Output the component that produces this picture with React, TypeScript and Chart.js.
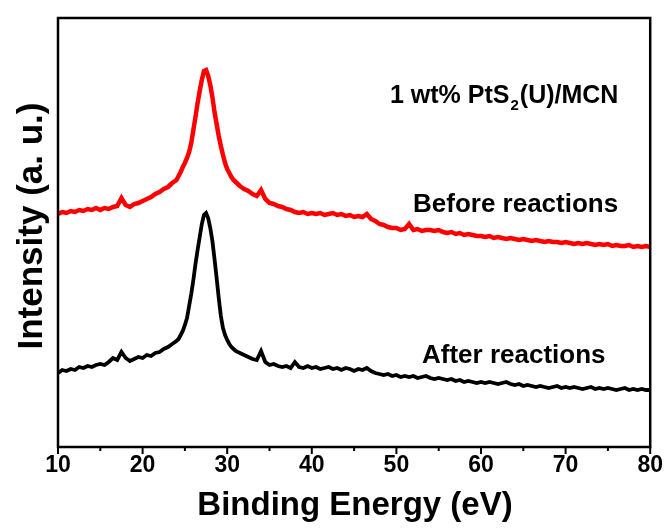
import React, { useEffect, useRef } from "react";
import { Chart, registerables } from "chart.js";

Chart.register(...registerables);

// Binding energy grid (eV)
const energies = [
  10, 10.5, 11, 11.5, 12, 12.5, 13, 13.5, 14, 14.5,
  15, 15.5, 16, 16.5, 17, 17.5, 18, 18.5, 19, 19.5,
  20, 20.5, 21, 21.5, 22, 22.5, 23, 23.5, 24,
  24.25, 24.5, 24.75, 25, 25.25, 25.5, 25.75, 26, 26.25, 26.5,
  26.75, 27, 27.25, 27.5, 27.75, 28, 28.25, 28.5, 28.75, 29,
  29.25, 29.5, 29.75, 30, 30.25, 30.5, 30.75, 31,
  31.5, 32, 32.5, 33, 33.5, 34, 34.5, 35, 35.5, 36,
  36.5, 37, 37.5, 38, 38.5, 39, 39.5, 40, 40.5, 41,
  41.5, 42, 42.5, 43, 43.5, 44, 44.5, 45, 45.5, 46,
  46.5, 47, 47.5, 48, 48.5, 49, 49.5, 50, 50.5, 51,
  51.5, 52, 52.5, 53, 53.5, 54, 54.5, 55, 55.5, 56,
  56.5, 57, 57.5, 58, 58.5, 59, 59.5, 60, 60.5, 61,
  61.5, 62, 62.5, 63, 63.5, 64, 64.5, 65, 65.5, 66,
  66.5, 67, 67.5, 68, 68.5, 69, 69.5, 70, 70.5, 71,
  71.5, 72, 72.5, 73, 73.5, 74, 74.5, 75, 75.5, 76,
  76.5, 77, 77.5, 78, 78.5, 79, 79.5, 80,
];

// Intensity (a. u.) — before reactions (red)
const beforeReactions = [
  233, 235, 234, 236, 235, 237, 236, 238, 237, 239,
  237, 239, 238, 240, 241, 249, 242, 240, 243, 244,
  246, 248, 250, 253, 255, 258, 260, 264, 267,
  271, 275, 280, 284, 289, 295, 304, 317, 330, 344,
  356, 367, 376, 377, 371, 362, 350, 335, 323, 311,
  301, 292, 284, 278, 274, 270, 267, 265,
  261, 258, 256, 253, 251, 257, 248, 244, 243, 241,
  240, 238, 237, 235, 234, 235, 233, 234, 233, 234,
  232, 233, 234, 232, 233, 231, 232, 230, 231, 230,
  233, 228, 226, 223, 222, 220, 219, 219, 217, 218,
  223, 217, 218, 216, 217, 217, 216, 217, 215, 214,
  215, 213, 214, 212, 213, 212, 211, 211, 210, 211,
  209, 210, 209, 208, 209, 208, 207, 208, 207, 206,
  207, 206, 205, 206, 205, 205, 204, 205, 204, 203,
  204, 203, 204, 203, 202, 203, 202, 203, 201, 202,
  201, 201, 202, 200, 201, 200, 201, 200,
];

// Intensity (a. u.) — after reactions (black)
const afterReactions = [
  74, 77, 76, 78, 77, 80, 79, 81, 80, 82,
  83, 82, 85, 89, 87, 95, 89, 86, 88, 90,
  89, 92, 91, 94, 95, 98, 100, 103, 106,
  108, 112, 116, 122, 129, 141, 153, 167, 183, 197,
  210, 223, 232, 234, 229, 219, 206, 188, 169, 149,
  131, 119, 112, 107, 103, 100, 98, 96,
  94, 92, 90, 88, 87, 96, 85, 82, 83, 81,
  80, 81, 79, 85, 80, 79, 81, 79, 80, 78,
  79, 80, 78, 79, 77, 79, 78, 76, 78, 77,
  79, 76, 74, 73, 72, 73, 71, 72, 70, 71,
  70, 71, 69, 70, 71, 69, 68, 69, 68, 67,
  68, 66, 67, 65, 66, 65, 64, 65, 64, 65,
  64, 63, 64, 65, 63, 62, 63, 61, 62, 61,
  60, 61, 60, 59, 60, 61, 59, 60, 59, 60,
  59, 58, 59, 60, 58, 59, 58, 59, 58, 57,
  58, 59, 57, 58, 57, 58, 57, 57,
];

const xMin = 10;
const xMax = 80;
const xMajorTicks = [10, 20, 30, 40, 50, 60, 70, 80];
const xMinorTicks = [15, 25, 35, 45, 55, 65, 75];
const yMin = 0;
const yMax = 429;

const xTitle = "Binding Energy (eV)";
const yTitle = "Intensity (a. u.)";
const sampleLabel = "1 wt% PtS";
const sampleSub = "2";
const sampleRest = "(U)/MCN";
const beforeLabel = "Before reactions";
const afterLabel = "After reactions";

const W = 668;
const H = 529;
const NARROW = "'Liberation Sans Narrow', 'Arial Narrow', 'Liberation Sans', Arial, sans-serif";
const SANS = "'Liberation Sans', Arial, sans-serif";

const decor = {
  id: "decor",
  afterDraw(chart: any) {
    const { ctx, chartArea } = chart;
    const xs = chart.scales.x;
    const { left, right, top, bottom } = chartArea;
    ctx.save();
    ctx.strokeStyle = "#000";
    ctx.lineWidth = 2.5;
    ctx.strokeRect(left, top, right - left, bottom - top);
    ctx.lineWidth = 2;
    for (const v of xMajorTicks) {
      const px = xs.getPixelForValue(v);
      ctx.beginPath();
      ctx.moveTo(px, bottom);
      ctx.lineTo(px, bottom + 7);
      ctx.stroke();
    }
    for (const v of xMinorTicks) {
      const px = xs.getPixelForValue(v);
      ctx.beginPath();
      ctx.moveTo(px, bottom);
      ctx.lineTo(px, bottom + 4);
      ctx.stroke();
    }
    ctx.fillStyle = "#000";
    ctx.textBaseline = "middle";
    // x title
    ctx.font = `bold 33px ${SANS}`;
    ctx.textAlign = "center";
    ctx.fillText(xTitle, 355, 506);
    // y title
    ctx.save();
    ctx.translate(32, 226);
    ctx.rotate(-Math.PI / 2);
    ctx.font = `bold 35px ${SANS}`;
    ctx.fillText(yTitle, 0, 0);
    ctx.restore();
    // annotations
    ctx.textAlign = "left";
    ctx.font = `bold 25px ${SANS}`;
    let x0 = 390;
    ctx.fillText(sampleLabel, x0, 96);
    x0 += ctx.measureText(sampleLabel).width;
    ctx.font = `bold 15px ${SANS}`;
    ctx.fillText(sampleSub, x0 + 1, 106);
    x0 += ctx.measureText(sampleSub).width + 2;
    ctx.font = `bold 25px ${SANS}`;
    ctx.fillText(sampleRest, x0, 96);
    ctx.font = `bold 26px ${SANS}`;
    ctx.fillText(beforeLabel, 413, 205);
    ctx.fillText(afterLabel, 422, 356);
    ctx.restore();
  },
};

export default function App() {
  const ref = useRef<HTMLCanvasElement | null>(null);
  useEffect(() => {
    if (!ref.current) return;
    const chart = new Chart(ref.current, {
      type: "line",
      data: {
        datasets: [
          {
            label: beforeLabel,
            data: energies.map((x, i) => ({ x, y: beforeReactions[i] })),
            borderColor: "#ff0000",
            borderWidth: 4.5,
            pointRadius: 0,
            tension: 0,
          },
          {
            label: afterLabel,
            data: energies.map((x, i) => ({ x, y: afterReactions[i] })),
            borderColor: "#000000",
            borderWidth: 3.8,
            pointRadius: 0,
            tension: 0,
          },
        ],
      },
      plugins: [decor],
      options: {
        responsive: false,
        animation: false,
        events: [],
        layout: { padding: { left: 58, right: 16, top: 18, bottom: 0 } },
        plugins: { legend: { display: false }, tooltip: { enabled: false } },
        scales: {
          x: {
            type: "linear",
            min: xMin,
            max: xMax,
            afterFit: (s: any) => {
              s.height = 82;
            },
            afterBuildTicks: (s: any) => {
              s.ticks = xMajorTicks.map((v) => ({ value: v }));
            },
            ticks: {
              color: "#000",
              font: { family: NARROW, size: 23, weight: "bold" },
              padding: 5,
              maxRotation: 0,
              autoSkip: false,
            },
            grid: { display: false, drawTicks: false },
            border: { display: false },
          },
          y: {
            min: yMin,
            max: yMax,
            afterFit: (s: any) => {
              s.width = 0;
            },
            ticks: { display: false },
            grid: { display: false, drawTicks: false },
            border: { display: false },
          },
        },
      },
    });
    return () => chart.destroy();
  }, []);
  return (
    <div style={{ position: "absolute", left: 0, top: 0, width: W, height: H, background: "#fff" }}>
      <canvas ref={ref} width={W} height={H} style={{ display: "block", width: W, height: H }} />
    </div>
  );
}
